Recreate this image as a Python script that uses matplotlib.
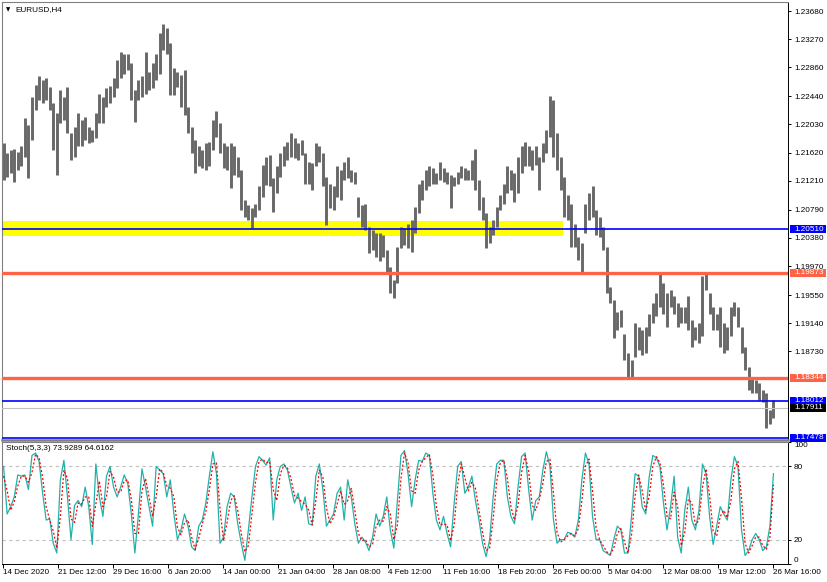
import matplotlib
matplotlib.use("Agg")
import matplotlib.pyplot as plt
import matplotlib.transforms as mtransforms
from matplotlib.patches import Rectangle

# EURUSD H4, 14 Dec 2020 - 26 Mar 2021.
# Each bar below spans two H4 candles; high / low in pips above 1.1700.
bar_high = [
    476, 461, 466, 468, 463, 471, 512, 502, 543, 560,
    573, 568, 570, 558, 534, 519, 553, 543, 557, 490,
    500, 519, 510, 514, 500, 495, 519, 548, 543, 556,
    559, 570, 597, 609, 606, 606, 592, 553, 568, 573,
    609, 580, 592, 606, 636, 649, 643, 621, 585, 580,
    575, 582, 529, 500, 480, 471,
    466, 476, 478, 510, 522, 505, 476, 471, 476, 471,
    456, 437, 393, 386, 381, 388, 413, 444, 456, 459,
    425, 442, 461, 471, 478, 490, 483, 476, 480, 461,
    449, 447, 476, 471, 461, 427, 417, 413, 442, 437,
    449, 456, 437, 434, 398, 386, 388, 354, 350, 345,
    345, 342, 320, 296, 277,
    325, 354, 352, 359, 364, 383, 417, 422, 437, 442,
    439, 432, 449, 439, 434, 430, 427, 434, 442, 439,
    437, 451, 468, 422, 398, 374, 354, 364, 383, 400,
    417, 442, 437, 432, 456, 471, 478, 471, 466, 471,
    456, 476, 495, 544, 539, 490, 456, 427, 400, 388,
    359, 340, 330,
    388, 403, 413, 379, 369, 354, 325, 267, 248, 231,
    233, 199, 170, 161, 214, 209, 204, 209, 228, 243,
    258, 289, 272, 258, 262, 253, 243, 238, 238, 253,
    219, 209, 214, 282, 288, 258, 238, 228, 238, 214,
    209, 238, 245, 238, 209, 180, 151, 136, 131, 127,
    117, 112, 88, 102,
]
bar_low = [
    422, 427, 432, 420, 437, 442, 456, 425, 480, 524,
    539, 534, 539, 524, 466, 430, 505, 510, 490, 451,
    456, 471, 471, 480, 476, 478, 483, 505, 505, 529,
    534, 543, 556, 570, 577, 582, 539, 507, 539, 543,
    548, 553, 556, 568, 577, 611, 606, 546, 546, 558,
    529, 517, 490, 461, 432, 442,
    439, 437, 442, 466, 485, 461, 439, 437, 410, 430,
    427, 379, 369, 364, 352, 369, 379, 398, 415, 413,
    376, 403, 427, 442, 451, 456, 454, 451, 459, 417,
    417, 408, 442, 449, 413, 357, 381, 379, 398, 393,
    422, 425, 420, 417, 369, 354, 350, 316, 320, 311,
    304, 311, 287, 258, 250,
    272, 323, 328, 323, 318, 345, 374, 393, 408, 413,
    417, 417, 422, 420, 417, 381, 413, 417, 425, 422,
    422, 422, 408, 379, 364, 323, 330, 342, 354, 379,
    388, 403, 408, 391, 403, 432, 442, 442, 437, 444,
    408, 449, 461, 485, 456, 437, 408, 369, 364, 325,
    325, 306, 289,
    345, 364, 369, 342, 340, 320, 258, 243, 192, 204,
    209, 161, 136, 134, 165, 175, 168, 170, 195, 214,
    224, 238, 228, 209, 238, 228, 209, 214, 214, 204,
    180, 190, 185, 195, 262, 228, 204, 204, 180, 170,
    175, 195, 224, 209, 170, 146, 117, 112, 112, 102,
    100, 61, 68, 76,
]

# Stochastic(5,3,3) main (%K) and signal (%D), one value per bar above
stoch_k = [
    80, 41, 47, 55, 73, 72, 73, 61, 89, 91,
    84, 58, 36, 37, 17, 9, 69, 85, 55, 20,
    48, 52, 47, 63, 47, 16, 82, 55, 39, 72,
    80, 63, 55, 63, 73, 66, 41, 9, 41, 78,
    63, 47, 31, 80, 77, 74, 55, 69, 41, 20,
    28, 41, 31, 14, 11, 31, 36, 50, 72, 92,
    74, 17, 22, 47, 58, 55, 33, 17, 3, 28,
    55, 80, 88, 85, 81, 87, 36, 69, 80, 82,
    77, 63, 50, 58, 44, 55, 33, 32, 72, 82,
    61, 31, 36, 41, 58, 63, 36, 69, 55, 33,
    17, 22, 18, 11, 22, 41, 31, 39, 55, 28,
    13, 52, 89, 93, 74, 47, 69, 85, 84, 91,
    89, 58, 36, 28, 39, 25, 14, 50, 80, 84,
    58, 63, 72, 52, 36, 17, 6, 20, 55, 82,
    85, 85, 55, 39, 33, 63, 88, 91, 61, 36,
    52, 55, 77, 92, 80, 36, 17, 20, 20, 26,
    25, 22, 36, 69, 91, 82, 39, 20, 20, 11,
    9, 7, 20, 31, 28, 9, 9, 39, 74, 72,
    47, 41, 72, 89, 87, 80, 50, 28, 47, 72,
    22, 9, 44, 63, 36, 28, 44, 82, 74, 39,
    16, 31, 47, 41, 36, 69, 88, 80, 28, 7,
    11, 20, 25, 20, 11, 14, 31, 74,
]
stoch_d = [
    72, 60, 44, 51, 64, 72, 72, 67, 75, 90,
    87, 71, 47, 36, 27, 13, 39, 77, 70, 37,
    34, 50, 49, 55, 55, 31, 49, 68, 47, 55,
    76, 71, 59, 59, 68, 69, 53, 25, 25, 60,
    70, 55, 39, 55, 78, 75, 64, 62, 55, 30,
    24, 34, 36, 22, 12, 21, 33, 43, 61, 82,
    83, 45, 19, 34, 52, 56, 44, 25, 10, 15,
    41, 67, 84, 86, 83, 84, 61, 52, 74, 81,
    79, 70, 56, 54, 51, 49, 44, 32, 52, 77,
    71, 46, 33, 38, 49, 60, 49, 52, 62, 44,
    25, 19, 20, 14, 16, 31, 36, 35, 47, 41,
    20, 32, 70, 91, 83, 60, 58, 77, 84, 87,
    90, 73, 47, 32, 33, 32, 19, 32, 65, 82,
    71, 60, 67, 62, 44, 26, 11, 13, 37, 68,
    83, 85, 70, 47, 36, 48, 75, 89, 76, 48,
    44, 53, 66, 84, 86, 58, 26, 18, 20, 23,
    25, 23, 29, 52, 80, 86, 60, 30, 20, 15,
    10, 8, 13, 25, 29, 18, 9, 24, 56, 73,
    60, 44, 56, 80, 88, 83, 65, 39, 37, 59,
    47, 15, 26, 53, 50, 32, 36, 63, 78, 56,
    27, 23, 39, 44, 38, 52, 78, 84, 54, 17,
    9, 15, 22, 22, 15, 12, 22, 65,
]

last_close = 1.17911
blue_levels = [1.20510, 1.18012, 1.17478]
red_levels = [1.19873, 1.18344]
zone_low, zone_high = 1.20413, 1.20631
zone_end_bar = 316  # H4 bar where the yellow box stops

price_ticks = [1.23680, 1.23270, 1.22860, 1.22440, 1.22030, 1.21620, 1.21210,
               1.20790, 1.20380, 1.19970, 1.19550, 1.19140, 1.18730]
date_labels = ["14 Dec 2020", "21 Dec 12:00", "29 Dec 16:00", "6 Jan 20:00",
               "14 Jan 00:00", "21 Jan 04:00", "28 Jan 08:00", "4 Feb 12:00",
               "11 Feb 16:00", "18 Feb 20:00", "26 Feb 00:00", "5 Mar 04:00",
               "12 Mar 08:00", "19 Mar 12:00", "26 Mar 16:00"]
label_every = 31  # H4 bars between date labels

BLUE = "#0000ff"
TOMATO = "#ff6347"
FS = 5.9

plt.rcParams["font.family"] = ["Liberation Sans", "DejaVu Sans"]

W, H = 828, 582
fig = plt.figure(figsize=(W / 100, H / 100), dpi=100)


def px_rect(x0, y0, x1, y1):
    return [x0 / W, 1 - y1 / H, (x1 - x0) / W, (y1 - y0) / H]


ax = fig.add_axes(px_rect(2, 2, 788, 440))
ax2 = fig.add_axes(px_rect(2, 442, 788, 564), sharex=ax)

prices_hi = [1.17 + v / 10000 for v in bar_high]
prices_lo = [1.17 + v / 10000 for v in bar_low]
xs = [2 * j + 0.5 for j in range(len(bar_high))]

# --- price panel ---
ax.add_patch(Rectangle((-5, zone_low), zone_end_bar + 5, zone_high - zone_low,
                       facecolor="#ffff00", edgecolor="none", zorder=1))
ax.vlines(xs, prices_lo, prices_hi, colors="#686868", linewidth=2.1, zorder=2)
ax.axhline(last_close, color="#c0c0c0", lw=0.8, zorder=3)
for p in red_levels:
    ax.axhline(p, color=TOMATO, lw=2.4, zorder=4)
for p in blue_levels:
    ax.axhline(p, color=BLUE, lw=1.2, zorder=4)

ax.set_xlim(-0.4, 442.7)
ax.set_ylim(1.17442, 1.23811)
ax.yaxis.tick_right()
ax.set_yticks(price_ticks)
ax.set_yticklabels([f"{t:.5f}" for t in price_ticks])
ax.tick_params(axis="y", direction="out", length=2.2, width=0.7, pad=2.2,
               labelsize=FS, colors="black")
ax.tick_params(axis="x", bottom=False, labelbottom=False)
for side in ("left", "top"):
    ax.spines[side].set_color("#808080")
    ax.spines[side].set_linewidth(0.8)
ax.spines["right"].set_color("black")
ax.spines["right"].set_linewidth(0.7)
ax.spines["bottom"].set_color("#808080")
ax.spines["bottom"].set_linewidth(1.8)

# price labels on the right axis
box_h = 8 / 6877
trans = mtransforms.blended_transform_factory(ax.transAxes, ax.transData)
tags = [(p, BLUE) for p in blue_levels] + [(p, TOMATO) for p in red_levels]
tags.append((last_close, "black"))
for p, col in tags:
    ax.add_patch(Rectangle((1.0025, p - box_h / 2), 0.046, box_h, transform=trans,
                           facecolor=col, edgecolor="none", clip_on=False, zorder=8))
    ax.text(1.0076, p, f"{p:.5f}", transform=trans, color="white", fontsize=FS,
            va="center", ha="left", clip_on=False, zorder=9)

# --- stochastic panel ---
ax2.axhline(80, color="#c0c0c0", lw=0.8, ls=(0, (3, 3)))
ax2.axhline(20, color="#c0c0c0", lw=0.8, ls=(0, (3, 3)))
ax2.plot(xs, stoch_k, color="#20b2aa", lw=0.9, zorder=3)
ax2.plot(xs, stoch_d, color="#ff0000", lw=0.9, ls=(0, (1.6, 1.6)), zorder=4)
ax2.set_ylim(0, 100)
ax2.yaxis.tick_right()
ax2.set_yticks([0, 20, 80, 100])
ax2.set_yticklabels(["0", "20", "80", "100"])
ax2.tick_params(axis="y", direction="out", length=2.2, width=0.7, pad=2.2, labelsize=FS)
ylabels = ax2.get_yticklabels()
ylabels[0].set_va("bottom")
ylabels[3].set_va("top")

ax2.set_xticks([label_every * k for k in range(len(date_labels))])
ax2.set_xticklabels(date_labels, ha="left")
ax2.tick_params(axis="x", direction="out", length=2.9, width=0.7, pad=0.5, labelsize=FS)
for side in ("left", "top"):
    ax2.spines[side].set_color("#808080")
    ax2.spines[side].set_linewidth(0.8)
for side in ("right", "bottom"):
    ax2.spines[side].set_color("black")
    ax2.spines[side].set_linewidth(0.7)

# --- panel captions ---
fig.text(8 / W, 1 - 9.3 / H, "\u25bc", fontsize=4, ha="center", va="center",
         family=["DejaVu Sans"])
fig.text(15 / W, 1 - 9.3 / H, "EURUSD,H4", fontsize=FS, va="center")
fig.text(6 / W, 1 - 448.7 / H, "Stoch(5,3,3) 73.9289 64.6162", fontsize=FS, va="center")

fig.savefig("out.png", dpi=100)
